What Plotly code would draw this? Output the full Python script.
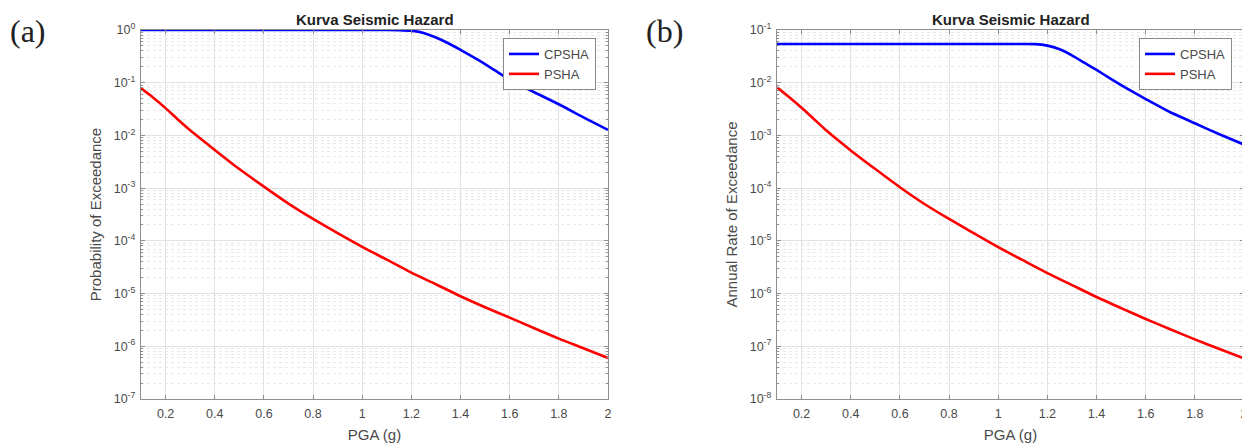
import plotly.graph_objects as go

# ---------------- data ----------------
pga_psha = [0.1, 0.15, 0.2, 0.25, 0.3, 0.4, 0.5, 0.6, 0.7, 0.8, 0.9, 1.0,
            1.1, 1.2, 1.3, 1.4, 1.5, 1.6, 1.7, 1.8, 1.9, 2.0]
poe_psha = [0.078, 0.052, 0.033, 0.020, 0.0125, 0.0053, 0.0023, 0.00107, 0.00051,
            0.00026, 0.00014, 7.7e-5, 4.4e-5, 2.5e-5, 1.5e-5, 8.9e-6, 5.5e-6,
            3.5e-6, 2.2e-6, 1.4e-6, 9.2e-7, 6.0e-7]
rate_psha = [8.2e-3, 5.3e-3, 3.35e-3, 2.05e-3, 1.25e-3, 5.2e-4, 2.3e-4, 1.04e-4,
             5.0e-5, 2.6e-5, 1.4e-5, 7.6e-6, 4.3e-6, 2.45e-6, 1.45e-6, 8.6e-7,
             5.3e-7, 3.3e-7, 2.1e-7, 1.35e-7, 8.9e-8, 5.9e-8]

pga_cpsha = [0.1, 0.5, 1.0, 1.1, 1.15, 1.2, 1.25, 1.3, 1.35, 1.4, 1.45, 1.5,
             1.55, 1.6, 1.7, 1.8, 1.9, 2.0]
poe_cpsha = [1.0, 1.0, 1.0, 1.0, 0.995, 0.97, 0.88, 0.72, 0.56, 0.42, 0.31,
             0.225, 0.16, 0.115, 0.066, 0.039, 0.022, 0.0127]
rate_cpsha = [0.0542, 0.0542, 0.0542, 0.0542, 0.0540, 0.0505, 0.043, 0.033,
              0.024, 0.0175, 0.0125, 0.009, 0.0066, 0.0049, 0.00275, 0.0017,
              0.00105, 0.00067]

x_ticks = [0.2, 0.4, 0.6, 0.8, 1.0, 1.2, 1.4, 1.6, 1.8, 2.0]
x_ticktext = ["0.2", "0.4", "0.6", "0.8", "1", "1.2", "1.4", "1.6", "1.8", "2"]
exp_left = [0, -1, -2, -3, -4, -5, -6, -7]
exp_right = [-1, -2, -3, -4, -5, -6, -7, -8]

panel_title = "Kurva Seismic Hazard"
x_title = "PGA (g)"
y_title_left = "Probability of Exceedance"
y_title_right = "Annual Rate of Exceedance"

# ---------------- styling ----------------
OFF = 8  # default page body margin
W, H = 1250 - OFF, 445 - OFF
FONT = "Liberation Sans, Arial, sans-serif"
TXT = "#4a4a4a"
AXC = "#8f8f8f"
GRID = "#e3e3e3"
MINOR = "#e9e9e9"


def px(sx):
    return (sx - OFF) / W


def py(sy):
    return 1 - (sy - OFF) / H


fig = go.Figure()
fig.add_trace(go.Scatter(x=pga_cpsha, y=poe_cpsha, mode="lines", name="CPSHA",
                         line=dict(color="#0000ff", width=2.6, shape="spline", smoothing=0.5),
                         xaxis="x", yaxis="y", legend="legend"))
fig.add_trace(go.Scatter(x=pga_psha, y=poe_psha, mode="lines", name="PSHA",
                         line=dict(color="#ff0000", width=2.6, shape="spline", smoothing=0.7),
                         xaxis="x", yaxis="y", legend="legend"))
fig.add_trace(go.Scatter(x=pga_cpsha, y=rate_cpsha, mode="lines", name="CPSHA",
                         line=dict(color="#0000ff", width=2.6, shape="spline", smoothing=0.5),
                         xaxis="x2", yaxis="y2", legend="legend2"))
fig.add_trace(go.Scatter(x=pga_psha, y=rate_psha, mode="lines", name="PSHA",
                         line=dict(color="#ff0000", width=2.6, shape="spline", smoothing=0.7),
                         xaxis="x2", yaxis="y2", legend="legend2"))


def minor_vals(exps):
    lo, hi = min(exps), max(exps)
    vals = []
    for e in range(lo, hi):
        for m in range(2, 10):
            vals.append(m * 10.0 ** e)
    return vals


def xaxis_cfg(domain, anchor):
    return dict(domain=domain, anchor=anchor, range=[0.1, 2.0], automargin=False,
                tickmode="array", tickvals=x_ticks, ticktext=x_ticktext,
                ticks="inside", ticklen=4, tickcolor=AXC,
                showline=True, linecolor=AXC, linewidth=1.2, mirror="ticks",
                showgrid=True, gridcolor=GRID, gridwidth=1, zeroline=False,
                tickfont=dict(family=FONT, size=12.5, color=TXT),
                ticklabeloverflow="allow",
                title=dict(text=x_title, font=dict(family=FONT, size=15, color=TXT),
                           standoff=9),
                ticklabelstandoff=3)


def yaxis_cfg(domain, anchor, exps, title):
    return dict(domain=domain, anchor=anchor, type="log", automargin=False,
                range=[min(exps), max(exps)],
                tickmode="array", tickvals=[10.0 ** e for e in exps],
                ticktext=["10<sup>%d</sup>" % e for e in exps],
                ticks="inside", ticklen=4, tickcolor=AXC,
                showline=True, linecolor=AXC, linewidth=1.2, mirror="ticks",
                showgrid=True, gridcolor=GRID, gridwidth=1, zeroline=False,
                minor=dict(tickmode="array", tickvals=minor_vals(exps),
                           ticks="inside", ticklen=2, tickcolor=AXC,
                           showgrid=True, gridcolor=MINOR, griddash="dot", gridwidth=1),
                tickfont=dict(family=FONT, size=12.5, color=TXT),
                ticklabeloverflow="allow",
                title=dict(text=title, font=dict(family=FONT, size=15, color=TXT),
                           standoff=8),
                ticklabelstandoff=2)


xd1 = [px(141), px(608)]
xd2 = [px(777), px(1244)]
yd = [py(399), py(30)]

legend_style = dict(yanchor="top", bgcolor="white", bordercolor="#8a8a8a", borderwidth=1,
                    font=dict(family=FONT, size=13, color=TXT),
                    tracegroupgap=0, itemwidth=30)

fig.update_layout(
    width=W, height=H,
    margin=dict(l=0, r=0, t=0, b=0, autoexpand=False),
    paper_bgcolor="white", plot_bgcolor="white",
    xaxis=xaxis_cfg(xd1, "y"),
    yaxis=yaxis_cfg(yd, "x", exp_left, y_title_left),
    xaxis2=xaxis_cfg(xd2, "y2"),
    yaxis2=yaxis_cfg(yd, "x2", exp_right, y_title_right),
    legend=dict(x=px(596), xanchor="right", y=py(38), **legend_style),
    legend2=dict(x=px(1232), xanchor="right", y=py(38), **legend_style),
    showlegend=True,
    annotations=[
        dict(text="<b>%s</b>" % panel_title, x=(xd1[0] + xd1[1]) / 2, y=py(19),
             xref="paper", yref="paper", showarrow=False, xanchor="center",
             yanchor="middle", font=dict(family=FONT, size=15, color="#222222")),
        dict(text="<b>%s</b>" % panel_title, x=(xd2[0] + xd2[1]) / 2, y=py(19),
             xref="paper", yref="paper", showarrow=False, xanchor="center",
             yanchor="middle", font=dict(family=FONT, size=15, color="#222222")),
        dict(text="(a)", x=px(8), y=py(31), xref="paper", yref="paper",
             showarrow=False, xanchor="left", yanchor="middle",
             font=dict(family="Liberation Serif, Times New Roman, serif", size=32,
                       color="#222222")),
        dict(text="(b)", x=px(644), y=py(31), xref="paper", yref="paper",
             showarrow=False, xanchor="left", yanchor="middle",
             font=dict(family="Liberation Serif, Times New Roman, serif", size=32,
                       color="#222222")),
    ],
)

fig.write_html("out.html")
